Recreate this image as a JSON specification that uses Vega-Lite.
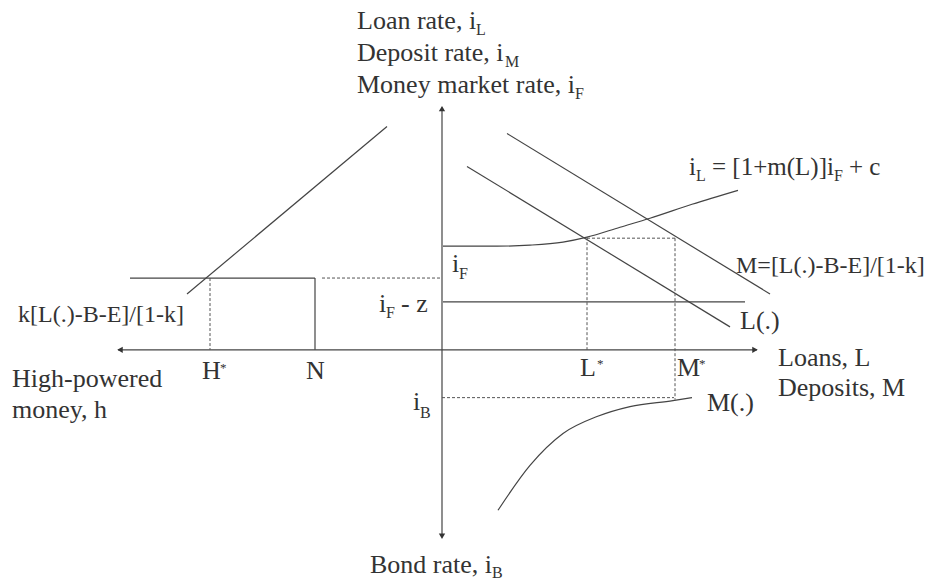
{
  "$schema": "https://vega.github.io/schema/vega-lite/v6.json",
  "width": 928,
  "height": 581,
  "autosize": {"type": "fit", "contains": "padding"},
  "padding": 0,
  "background": "white",
  "config": {"view": {"stroke": null}},
  "datasets": {
    "straight": [
      {"seg": "vaxis", "i": 0, "u": 0, "v": 243},
      {"seg": "vaxis", "i": 1, "u": 0, "v": -188},
      {"seg": "haxis", "i": 0, "u": -324, "v": 0},
      {"seg": "haxis", "i": 1, "u": 315, "v": 0},
      {"seg": "kline", "i": 0, "u": -255, "v": 56},
      {"seg": "kline", "i": 1, "u": -55, "v": 224},
      {"seg": "hline", "i": 0, "u": -312, "v": 72},
      {"seg": "hline", "i": 1, "u": -127, "v": 72},
      {"seg": "nline", "i": 0, "u": -127, "v": 72},
      {"seg": "nline", "i": 1, "u": -127, "v": 0},
      {"seg": "Lline", "i": 0, "u": 25, "v": 184},
      {"seg": "Lline", "i": 1, "u": 288, "v": 23},
      {"seg": "Mline", "i": 0, "u": 65, "v": 217},
      {"seg": "Mline", "i": 1, "u": 328, "v": 56},
      {"seg": "ifz", "i": 0, "u": 1, "v": 48},
      {"seg": "ifz", "i": 1, "u": 303, "v": 48}
    ],
    "curves": [
      {"seg": "iL", "i": 0, "u": 1, "v": 104},
      {"seg": "iL", "i": 1, "u": 55, "v": 104},
      {"seg": "iL", "i": 2, "u": 88, "v": 105},
      {"seg": "iL", "i": 3, "u": 121, "v": 108},
      {"seg": "iL", "i": 4, "u": 145, "v": 113},
      {"seg": "iL", "i": 5, "u": 178, "v": 123},
      {"seg": "iL", "i": 6, "u": 208, "v": 132},
      {"seg": "iL", "i": 7, "u": 250, "v": 146},
      {"seg": "iL", "i": 8, "u": 296, "v": 160},
      {"seg": "Mcurve", "i": 0, "u": 56, "v": -161},
      {"seg": "Mcurve", "i": 1, "u": 88, "v": -116},
      {"seg": "Mcurve", "i": 2, "u": 121, "v": -84},
      {"seg": "Mcurve", "i": 3, "u": 155, "v": -67},
      {"seg": "Mcurve", "i": 4, "u": 188, "v": -57},
      {"seg": "Mcurve", "i": 5, "u": 231, "v": -51},
      {"seg": "Mcurve", "i": 6, "u": 250, "v": -48}
    ],
    "dashed": [
      {"seg": "d1", "i": 0, "u": -120, "v": 72},
      {"seg": "d1", "i": 1, "u": -2, "v": 72},
      {"seg": "hstar", "i": 0, "u": -232, "v": 72},
      {"seg": "hstar", "i": 1, "u": -232, "v": 0},
      {"seg": "lstar", "i": 0, "u": 145, "v": 113},
      {"seg": "lstar", "i": 1, "u": 145, "v": 0},
      {"seg": "top", "i": 0, "u": 145, "v": 112},
      {"seg": "top", "i": 1, "u": 233, "v": 112},
      {"seg": "mstar", "i": 0, "u": 233, "v": 112},
      {"seg": "mstar", "i": 1, "u": 233, "v": -50},
      {"seg": "ib", "i": 0, "u": 0, "v": -48},
      {"seg": "ib", "i": 1, "u": 232, "v": -48}
    ],
    "arrows": [
      {"dir": "up", "u": 0, "v": 242},
      {"dir": "down", "u": 0, "v": -187},
      {"dir": "left", "u": -322, "v": 0},
      {"dir": "right", "u": 313, "v": 0}
    ],
    "labels": [
      {"kind": "main", "t": "Loan rate, i", "u": -85, "v": 322},
      {"kind": "main", "t": "Deposit rate, i", "u": -85, "v": 290},
      {"kind": "main", "t": "Money market rate, i", "u": -85, "v": 258},
      {"kind": "mid", "t": "i", "u": 247, "v": 175},
      {"kind": "mid", "t": "= [1+m(L)]i", "u": 270, "v": 175},
      {"kind": "mid", "t": "+ c", "u": 407, "v": 175},
      {"kind": "small", "t": "M=[L(.)-B-E]/[1-k]", "u": 294, "v": 77},
      {"kind": "main", "t": "L(.)", "u": 298, "v": 21},
      {"kind": "main", "t": "Loans, L", "u": 336, "v": -16},
      {"kind": "main", "t": "Deposits, M", "u": 336, "v": -46},
      {"kind": "main", "t": "M(.)", "u": 265, "v": -61},
      {"kind": "main", "t": "L", "u": 138, "v": -26},
      {"kind": "main", "t": "M", "u": 235, "v": -26},
      {"kind": "main", "t": "H", "u": -240, "v": -29},
      {"kind": "main", "t": "N", "u": -136, "v": -29},
      {"kind": "small", "t": "k[L(.)-B-E]/[1-k]", "u": -424, "v": 28},
      {"kind": "main", "t": "High-powered", "u": -430, "v": -37},
      {"kind": "main", "t": "money, h", "u": -430, "v": -68},
      {"kind": "main", "t": "i", "u": 10, "v": 78},
      {"kind": "main", "t": "i", "u": -63, "v": 38},
      {"kind": "main", "t": "- z", "u": -41, "v": 38},
      {"kind": "main", "t": "i", "u": -29, "v": -60},
      {"kind": "main", "t": "Bond rate, i", "u": -72, "v": -224},
      {"kind": "sub", "t": "L", "u": 34, "v": 316},
      {"kind": "sub", "t": "M", "u": 63, "v": 284},
      {"kind": "sub", "t": "F", "u": 133, "v": 252},
      {"kind": "sub", "t": "L", "u": 254, "v": 169},
      {"kind": "sub", "t": "F", "u": 392, "v": 169},
      {"kind": "sub", "t": "F", "u": 17, "v": 71},
      {"kind": "sub", "t": "F", "u": -56, "v": 32},
      {"kind": "sub", "t": "B", "u": -22, "v": -68},
      {"kind": "sub", "t": "B", "u": 50, "v": -229},
      {"kind": "sup", "t": "*", "u": 155, "v": -18},
      {"kind": "sup", "t": "*", "u": 257, "v": -18},
      {"kind": "sup", "t": "*", "u": -222, "v": -22}
    ]
  },
  "encoding": {
    "x": {"field": "u", "type": "quantitative", "scale": {"domain": [-442, 486], "nice": false, "zero": false}, "axis": null},
    "y": {"field": "v", "type": "quantitative", "scale": {"domain": [-230, 351], "nice": false, "zero": false}, "axis": null}
  },
  "layer": [
    {
      "data": {"name": "straight"},
      "mark": {"type": "line", "color": "#444", "strokeWidth": 1.2},
      "encoding": {"detail": {"field": "seg"}, "order": {"field": "i", "type": "quantitative"}}
    },
    {
      "data": {"name": "curves"},
      "mark": {"type": "line", "color": "#444", "strokeWidth": 1.2, "interpolate": "monotone"},
      "encoding": {"detail": {"field": "seg"}, "order": {"field": "i", "type": "quantitative"}}
    },
    {
      "data": {"name": "dashed"},
      "mark": {"type": "line", "color": "#555", "strokeWidth": 1, "strokeDash": [3, 2]},
      "encoding": {"detail": {"field": "seg"}, "order": {"field": "i", "type": "quantitative"}}
    },
    {
      "data": {"name": "arrows"},
      "mark": {"type": "point", "filled": true, "size": 40, "color": "#333", "opacity": 1},
      "encoding": {
        "shape": {"field": "dir", "type": "nominal", "legend": null,
          "scale": {"domain": ["up", "down", "left", "right"], "range": ["triangle-up", "triangle-down", "triangle-left", "triangle-right"]}}
      }
    },
    {
      "data": {"name": "labels"},
      "transform": [{"filter": "datum.kind === 'main'"}],
      "mark": {"type": "text", "font": "Liberation Serif", "fontSize": 26, "align": "left", "baseline": "alphabetic", "color": "#333"},
      "encoding": {"text": {"field": "t"}}
    },
    {
      "data": {"name": "labels"},
      "transform": [{"filter": "datum.kind === 'mid'"}],
      "mark": {"type": "text", "font": "Liberation Serif", "fontSize": 25, "align": "left", "baseline": "alphabetic", "color": "#333"},
      "encoding": {"text": {"field": "t"}}
    },
    {
      "data": {"name": "labels"},
      "transform": [{"filter": "datum.kind === 'small'"}],
      "mark": {"type": "text", "font": "Liberation Serif", "fontSize": 24, "align": "left", "baseline": "alphabetic", "color": "#333"},
      "encoding": {"text": {"field": "t"}}
    },
    {
      "data": {"name": "labels"},
      "transform": [{"filter": "datum.kind === 'sub'"}],
      "mark": {"type": "text", "font": "Liberation Serif", "fontSize": 16, "align": "left", "baseline": "alphabetic", "color": "#333"},
      "encoding": {"text": {"field": "t"}}
    },
    {
      "data": {"name": "labels"},
      "transform": [{"filter": "datum.kind === 'sup'"}],
      "mark": {"type": "text", "font": "Liberation Serif", "fontSize": 13, "align": "left", "baseline": "alphabetic", "color": "#333"},
      "encoding": {"text": {"field": "t"}}
    }
  ]
}
